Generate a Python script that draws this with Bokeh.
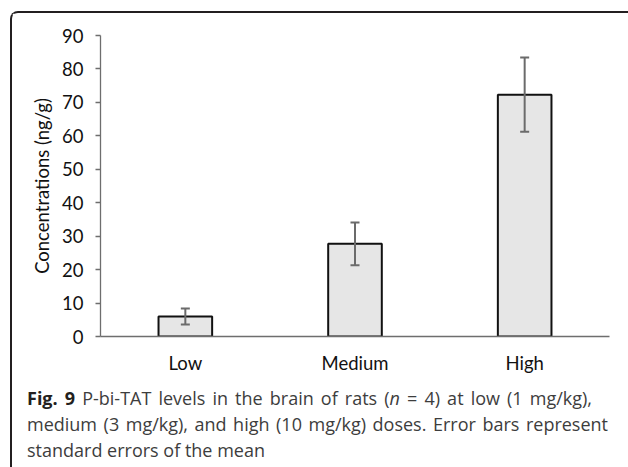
from bokeh.plotting import figure
from bokeh.models import ColumnDataSource, FactorRange, Whisker, TeeHead, Div
from bokeh.layouts import column
from bokeh.embed import file_html
from bokeh.resources import INLINE

# ---- data ----
categories = ["Low", "Medium", "High"]
means = [6.0, 27.7, 72.3]
sems = [2.4, 6.4, 11.1]
y_ticks = [0, 10, 20, 30, 40, 50, 60, 70, 80, 90]
y_label = "Concentrations (ng/g)"

cap_bold = "Fig. 9"
cap_line1 = ("P-bi-TAT levels in the brain of rats (", "n", " = 4) at low (1 mg/kg),")
cap_line2 = "medium (3 mg/kg), and high (10 mg/kg) doses. Error bars represent"
cap_line3 = "standard errors of the mean"

# ---- chart ----
FIG_W, FIG_H = 616, 372
p = figure(width=FIG_W, height=FIG_H,
           x_range=FactorRange(*categories, range_padding=0),
           y_range=(0, 90), output_backend="svg", toolbar_location=None,
           min_border_left=88, min_border_right=19, min_border_top=22,
           min_border_bottom=49)
p.outline_line_color = None
p.xgrid.grid_line_color = None
p.ygrid.grid_line_color = None
p.background_fill_color = "white"
p.border_fill_color = "white"

src = ColumnDataSource(dict(x=categories, top=means,
                            upper=[m + s for m, s in zip(means, sems)],
                            lower=[m - s for m, s in zip(means, sems)]))
p.vbar(x="x", top="top", width=0.316, source=src, fill_color="#e6e6e6",
       line_color="#111111", line_width=2)

ecol = "#6b6b6b"
wh = Whisker(source=src, base="x", upper="upper", lower="lower",
             line_color=ecol, line_width=2, level="overlay",
             upper_head=TeeHead(size=9, line_color=ecol, line_width=2),
             lower_head=TeeHead(size=9, line_color=ecol, line_width=2))
p.add_layout(wh)

axis_col = "#6e6e6e"
FONT = "Lato"
FSZ = "18.5px"
p.yaxis.ticker = y_ticks
p.yaxis.axis_line_color = axis_col
p.yaxis.axis_line_width = 1.3
p.yaxis.major_tick_line_color = axis_col
p.yaxis.major_tick_line_width = 1.3
p.yaxis.major_tick_out = 5
p.yaxis.major_tick_in = 0
p.yaxis.minor_tick_line_color = None
p.yaxis.major_label_text_font = FONT
p.yaxis.major_label_text_font_size = FSZ
p.yaxis.major_label_text_color = "#111111"
p.yaxis.major_label_standoff = 12
p.yaxis.axis_label = y_label
p.yaxis.axis_label_text_font = FONT
p.yaxis.axis_label_text_font_size = FSZ
p.yaxis.axis_label_text_font_style = "normal"
p.yaxis.axis_label_text_color = "#111111"
p.yaxis.axis_label_standoff = 6

p.xaxis.axis_line_color = axis_col
p.xaxis.axis_line_width = 1.3
p.xaxis.major_tick_line_color = None
p.xaxis.minor_tick_line_color = None
p.xaxis.major_tick_out = 0
p.xaxis.major_label_text_font = FONT
p.xaxis.major_label_text_font_size = FSZ
p.xaxis.major_label_text_color = "#111111"
p.xaxis.major_label_standoff = 15

# ---- caption ----
just = "text-align:justify;text-align-last:justify;"
html = (
    '<div style="margin-left:15px;font-family:\'Open Sans\';font-size:18px;'
    'line-height:26px;color:#3d3d3d;">'
    f'<div style="width:565px;{just}"><b style="color:#231f20">{cap_bold}</b> {cap_line1[0]}<i>{cap_line1[1]}</i>{cap_line1[2]}</div>'
    f'<div style="width:581px;{just}">{cap_line2}</div>'
    f'<div style="text-align:left;">{cap_line3}</div>'
    '</div>'
)
cap = Div(text=html, width=FIG_W, height=467 - 13 - FIG_H, margin=0)

root = column(p, cap, spacing=0,
              styles={"border-top": "2px solid #231f20",
                      "border-left": "2px solid #231f20",
                      "border-top-left-radius": "8px",
                      "margin-left": "10px", "margin-top": "11px",
                      "background-color": "white"})

open("out.html", "w").write(file_html(root, INLINE))
